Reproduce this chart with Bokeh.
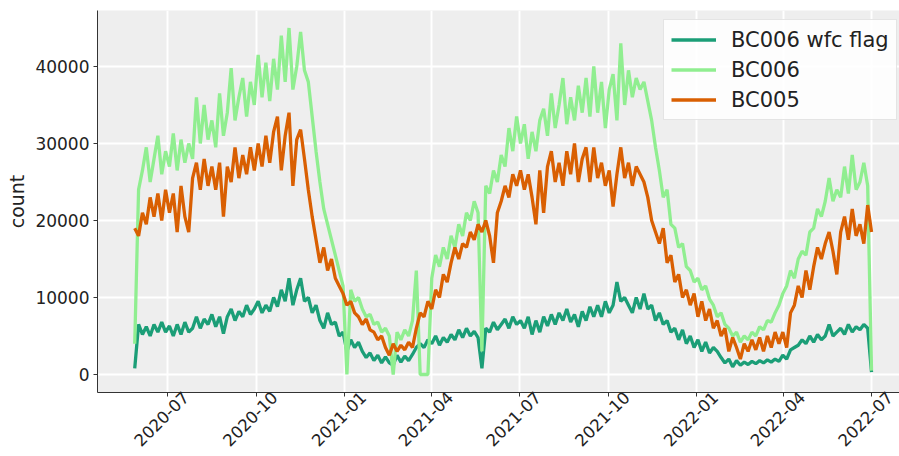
import math
import pandas as pd
from bokeh.plotting import figure
from bokeh.models import (Range1d, FixedTicker, Legend, LegendItem,
                          BasicTickFormatter, DatetimeAxis, DatetimeTickFormatter)
from bokeh.embed import file_html
from bokeh.resources import INLINE

# ---- data (one value every 4 days) ----
start_date = "2020-05-28"
step_days = 4

wfc_flag = [
    800, 6500, 5200, 6200, 5000, 6500, 5500, 6800, 5500, 6300,        # 0
    5000, 6500, 5200, 6800, 5500, 6000, 7500, 6000, 7200, 6500,       # 10
    7800, 6200, 7500, 5300, 7500, 8500, 7000, 8200, 7500, 9000,       # 20
    7800, 8500, 9500, 8000, 9000, 8200, 10000, 8800, 11000, 9500,     # 30
    12500, 9000, 11000, 12500, 9500, 10000, 8000, 9000, 7000, 6000,   # 40
    8000, 6500, 6800, 5000, 5500, 3000, 4500, 3500, 4200, 3000,       # 50
    2200, 2800, 1800, 2500, 1500, 2300, 1500, 1200, 2500, 1600,       # 60
    2400, 1800, 2600, 3500, 4000, 3500, 4500, 4000, 5000, 3800,       # 70
    4800, 4200, 5200, 4500, 5800, 4800, 6000, 5000, 5600, 4800,       # 80
    800, 6000, 5500, 6800, 5800, 6500, 7200, 6000, 7500, 6500,        # 90
    7000, 6000, 7500, 5200, 7000, 5500, 7500, 6300, 7800, 6500,       # 100
    8000, 7000, 8500, 6800, 7800, 6200, 8200, 7000, 8800, 7500,       # 110
    9000, 7500, 9500, 8000, 9000, 12000, 9500, 10000, 9000, 8000,     # 120
    10000, 8500, 10500, 8500, 9000, 7000, 8000, 6500, 7000, 5500,     # 130
    6000, 4500, 5800, 4000, 5000, 3500, 4500, 3000, 4200, 2800,       # 140
    3500, 3000, 2200, 1500, 2000, 1000, 1800, 1200, 1600, 1300,       # 150
    1700, 1400, 1800, 1500, 1900, 1600, 2000, 1700, 2500, 2000,       # 160
    3200, 3500, 3800, 4500, 4000, 5000, 4200, 5200, 4500, 5000,       # 170
    6500, 5000, 5500, 6000, 5200, 6500, 5500, 6200, 5800, 6500,       # 180
    6000, 300,                                                        # 190
]

bc006 = [
    4000, 24000, 26500, 29500, 25000, 28000, 31000, 26000, 29000, 27000,      # 0
    31300, 26500, 30500, 27500, 30000, 28000, 36000, 30000, 35000, 30500,     # 10
    33000, 29500, 36500, 31000, 34000, 39800, 33000, 36000, 38500, 33500,     # 20
    38000, 35000, 41500, 36000, 40500, 35500, 41000, 37000, 44000, 38000,     # 30
    45000, 37000, 40000, 44500, 39500, 38000, 33500, 29000, 25000, 21500,     # 40
    19500, 17500, 15500, 13500, 11500, 0, 11000, 9500, 10000, 8500,           # 50
    7500, 7800, 6500, 6800, 5500, 6000, 5000, 0, 5500, 4500,                  # 60
    5800, 5000, 7000, 13500, 0, 0, 0, 12500, 15500, 14000,                    # 70
    16500, 15000, 18000, 16500, 19500, 18000, 21000, 20000, 22500, 21000,     # 80
    3000, 24500, 23500, 26500, 25000, 28500, 27000, 32000, 29000, 33500,      # 90
    30000, 32500, 28000, 31500, 29000, 33000, 34500, 31000, 36500, 32000,     # 100
    35000, 38500, 32500, 36000, 33000, 37500, 34000, 38500, 33500, 40000,     # 110
    34000, 38000, 32000, 37000, 39000, 33000, 43000, 35000, 39500, 36000,     # 120
    38500, 37000, 38000, 35500, 33000, 29500, 26500, 23000, 24000, 19500,     # 130
    19000, 16500, 17000, 14000, 13500, 12000, 12500, 11000, 11500, 9800,      # 140
    9000, 7500, 8000, 6500, 6000, 5000, 5500, 4200, 5000, 4500,               # 150
    5500, 5000, 6200, 5800, 7000, 6800, 8000, 9000, 10500, 11500,             # 160
    13500, 12500, 15000, 16000, 15500, 18500, 19000, 21500, 20500, 22500,     # 170
    25500, 22500, 24000, 23000, 27000, 23500, 28500, 24000, 25000, 27500,     # 180
    24500, 500,                                                               # 190
]

bc005 = [
    19000, 18000, 21000, 19500, 23000, 20500, 23500, 20000, 24000, 21000,     # 0
    23500, 18500, 24500, 20500, 18500, 25500, 27500, 24000, 28000, 24500,     # 10
    27000, 24000, 27500, 20500, 27000, 25000, 29500, 25500, 28500, 26000,     # 20
    29500, 26500, 30000, 27000, 31000, 27500, 31500, 33500, 26500, 31000,     # 30
    34000, 24500, 30500, 31800, 28000, 24000, 20500, 17500, 14500, 16500,     # 40
    13500, 15000, 12500, 11500, 10500, 9000, 9500, 8000, 7500, 6500,          # 50
    7200, 5800, 5500, 4500, 5000, 3500, 2500, 4000, 3000, 3800,               # 60
    3200, 4200, 3500, 6000, 8000, 7500, 9500, 8500, 11000, 10000,             # 70
    13000, 12000, 14500, 16500, 15000, 17000, 16500, 18500, 17500, 19500,     # 80
    18500, 20000, 18000, 14500, 21000, 22500, 24500, 23000, 26000, 24500,     # 90
    26500, 24000, 26000, 23000, 19500, 26500, 21000, 27000, 29000, 25000,     # 100
    27500, 24500, 29000, 26000, 30000, 25000, 28000, 29500, 25000, 29500,     # 110
    25500, 27500, 24500, 26500, 21800, 26000, 29500, 25500, 27500, 24500,     # 120
    27000, 26000, 25000, 23000, 20000, 18500, 17000, 19000, 14500, 15500,     # 130
    12000, 13000, 10000, 11000, 9000, 10500, 7500, 9500, 7000, 8500,          # 140
    6000, 7000, 5000, 6000, 3000, 4800, 3500, 2000, 4000, 3000,               # 150
    4500, 3200, 4800, 3000, 5000, 3500, 5500, 4000, 5500, 3500,               # 160
    8000, 9000, 11500, 10000, 13500, 11000, 14000, 16500, 15000, 17000,       # 170
    18500, 16000, 13000, 18500, 20500, 17500, 21500, 18000, 19500, 17000,     # 180
    22000, 18500,                                                             # 190
]

series_labels = ["BC006 wfc flag", "BC006", "BC005"]
tick_months = ["2020-07", "2020-10", "2021-01", "2021-04", "2021-07",
               "2021-10", "2022-01", "2022-04", "2022-07"]
y_ticks = [0, 10000, 20000, 30000, 40000]

# ---- figure ----
dates = pd.date_range(start_date, periods=len(bc006), freq=f"{step_days}D")

FONT = "DejaVu Sans"
ref_day = pd.Timestamp("2020-07-01")
x_start = (ref_day - pd.Timedelta(days=72.6)).to_pydatetime()
x_end = (ref_day + pd.Timedelta(days=759.0)).to_pydatetime()

p = figure(width=899, height=456, x_axis_type="datetime",
           output_backend="svg", toolbar_location=None,
           min_border_left=97, min_border_right=0, min_border_top=10,
           min_border_bottom=64,
           x_range=Range1d(x_start, x_end), y_range=Range1d(-2340, 47270))

p.background_fill_color = "#eeeeee"
p.border_fill_color = "white"
p.outline_line_color = None

r1 = p.line(dates, wfc_flag, line_color="#1b9e77", line_width=3.3)
r2 = p.line(dates, bc006, line_color="#90ee90", line_width=3.3)
r3 = p.line(dates, bc005, line_color="#d95f02", line_width=3.3)

tick_dates = [pd.Timestamp(m + "-01") for m in tick_months]
tick_ms = [int(t.value // 10**6) for t in tick_dates]
xt = FixedTicker(ticks=tick_ms)
p.xaxis.ticker = xt
p.xgrid.ticker = xt
# the main x axis only draws the spine and tick marks
p.xaxis.major_label_text_font_size = "0px"
p.xaxis.major_label_text_alpha = 0

yt = FixedTicker(ticks=y_ticks)
p.yaxis.ticker = yt
p.ygrid.ticker = yt
p.yaxis.formatter = BasicTickFormatter(use_scientific=False)
p.yaxis.axis_label = "count"

for ax in (p.xaxis, p.yaxis):
    ax.axis_line_color = "#333333"
    ax.axis_line_width = 1
    ax.major_tick_line_color = "#333333"
    ax.major_tick_out = 4
    ax.major_tick_in = 0
    ax.minor_tick_line_color = None
    ax.major_label_text_font = FONT
    ax.major_label_text_color = "#222222"
    ax.major_label_standoff = 4
    ax.axis_label_text_font = FONT
    ax.axis_label_text_font_style = "normal"
    ax.axis_label_text_color = "#222222"
    ax.axis_label_standoff = 4
p.xaxis.major_label_standoff = 0

p.yaxis.major_label_text_font_size = "17px"
p.yaxis.axis_label_text_font_size = "19px"

for g in (p.xgrid, p.ygrid):
    g.grid_line_color = "white"
    g.grid_line_width = 2

# second, label-only axis: Bokeh anchors rotated labels at their end, so its
# ticks sit a little later so that each label ends up centred under its month tick
label_shift_ms = 19 * 24 * 3600 * 1000
fmt = "%Y-%m"
lab_axis = DatetimeAxis(
    ticker=FixedTicker(ticks=[t + label_shift_ms for t in tick_ms]),
    formatter=DatetimeTickFormatter(microseconds=fmt, milliseconds=fmt, seconds=fmt,
                                    minsec=fmt, minutes=fmt, hourmin=fmt, hours=fmt,
                                    days=fmt, months=fmt, years=fmt),
    major_label_orientation=math.pi / 4,
    axis_line_color=None, major_tick_line_color=None, minor_tick_line_color=None,
    major_tick_out=0, major_tick_in=0, major_label_standoff=-2,
    major_label_text_font=FONT, major_label_text_font_size="16.5px",
    major_label_text_color="#222222",
)
p.add_layout(lab_axis, "below")

legend = Legend(
    items=[LegendItem(label=series_labels[0], renderers=[r1]),
           LegendItem(label=series_labels[1], renderers=[r2]),
           LegendItem(label=series_labels[2], renderers=[r3])],
    location=(566, 272), margin=0, padding=7, spacing=5,
    glyph_width=45, glyph_height=25, label_height=25, label_standoff=15,
    label_text_font=FONT, label_text_font_size="21px", label_text_color="#222222",
    border_line_color="#cccccc", border_line_width=1,
    background_fill_color="white", background_fill_alpha=0.85,
)
p.add_layout(legend)

open("out.html", "w").write(file_html(p, INLINE))
